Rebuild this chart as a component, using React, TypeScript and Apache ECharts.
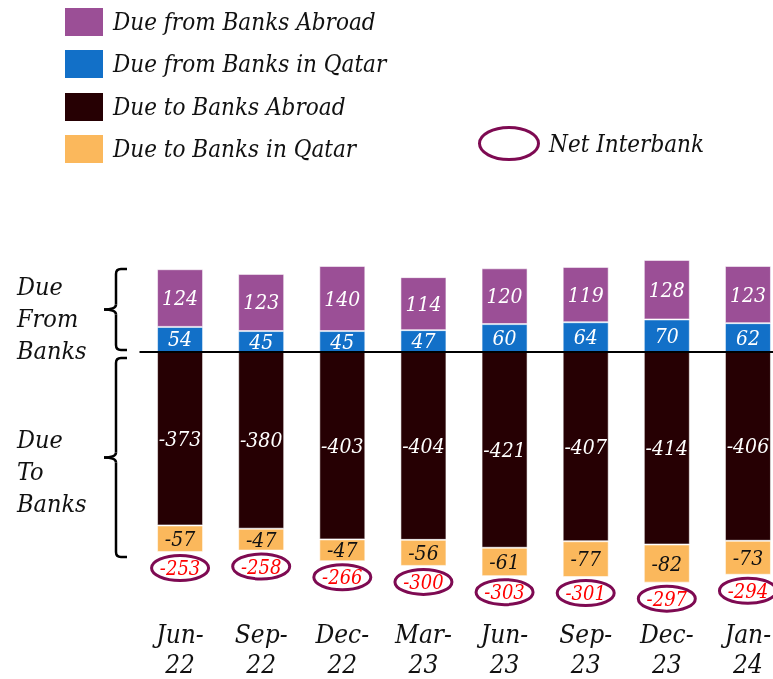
import React, { useEffect, useRef } from "react";
import * as echarts from "echarts";

const categories = ["Jun-\n22", "Sep-\n22", "Dec-\n22", "Mar-\n23", "Jun-\n23", "Sep-\n23", "Dec-\n23", "Jan-\n24"];
const dueFromAbroad = [124, 123, 140, 114, 120, 119, 128, 123];
const dueFromQatar = [54, 45, 45, 47, 60, 64, 70, 62];
const dueToAbroad = [-373, -380, -403, -404, -421, -407, -414, -406];
const dueToQatar = [-57, -47, -47, -56, -61, -77, -82, -73];
const netInterbank = [-253, -258, -266, -300, -303, -301, -297, -294];

const FONT = "'DejaVu Serif Condensed', 'DejaVu Serif', serif";
const C_PURPLE = "#9b4f96";
const C_BLUE = "#1270c8";
const C_DARK = "#260003";
const C_ORANGE = "#fbb85c";
const C_RING = "#7e0a52";

export default function App() {
  const ref = useRef<HTMLDivElement>(null);
  useEffect(() => {
    if (!ref.current) return;
    const chart = echarts.init(ref.current, null, { renderer: "svg" });
    const barLabel = (color: string) => ({
      show: true,
      position: "inside",
      color,
      fontFamily: FONT,
      fontStyle: "italic",
      fontSize: 21,
    });
    const barItem = (color: string) => ({
      color,
      borderColor: "rgba(255,255,255,0.55)",
      borderWidth: 1,
    });
    const legendItems = [
      { name: "Due from Banks Abroad", color: C_PURPLE, y: 8 },
      { name: "Due from Banks in Qatar", color: C_BLUE, y: 50 },
      { name: "Due to Banks Abroad", color: C_DARK, y: 93 },
      { name: "Due to Banks in Qatar", color: C_ORANGE, y: 135 },
    ];
    const graphics: any[] = [];
    legendItems.forEach((l) => {
      graphics.push({ type: "rect", left: 65, top: l.y, shape: { width: 38, height: 28 }, style: { fill: l.color } });
      graphics.push({
        type: "text",
        x: 113,
        y: l.y + 14,
        style: { text: l.name, fontFamily: FONT, fontStyle: "italic", fontSize: 24, fill: "#111", verticalAlign: "middle" },
      });
    });
    graphics.push({ type: "ellipse", shape: { cx: 509, cy: 143.5, rx: 29.5, ry: 16 }, style: { fill: "none", stroke: C_RING, lineWidth: 3 } });
    graphics.push({
      type: "text",
      x: 549,
      y: 143.5,
      style: { text: "Net Interbank", fontFamily: FONT, fontStyle: "italic", fontSize: 24, fill: "#111", verticalAlign: "middle" },
    });
    graphics.push({
      type: "text",
      x: 17,
      y: 270,
      style: { text: "Due\nFrom\nBanks", fontFamily: FONT, fontStyle: "italic", fontSize: 25, lineHeight: 32, fill: "#111" },
    });
    graphics.push({
      type: "text",
      x: 17,
      y: 423,
      style: { text: "Due\nTo\nBanks", fontFamily: FONT, fontStyle: "italic", fontSize: 25, lineHeight: 32, fill: "#111" },
    });
    const brace = (top: number, bottom: number) => {
      const mid = (top + bottom) / 2;
      const xs = 116, xe = 127, xt = 104, r = 5;
      const st = { stroke: "#000", lineWidth: 2.5, fill: "none" };
      return [
        { type: "line", shape: { x1: xe, y1: top, x2: xs + r, y2: top }, style: st },
        { type: "bezierCurve", shape: { x1: xs + r, y1: top, cpx1: xs, cpy1: top, x2: xs, y2: top + r }, style: st },
        { type: "line", shape: { x1: xs, y1: top + r, x2: xs, y2: mid - r }, style: st },
        { type: "bezierCurve", shape: { x1: xs, y1: mid - r, cpx1: xs, cpy1: mid, x2: xt, y2: mid }, style: st },
        { type: "bezierCurve", shape: { x1: xt, y1: mid, cpx1: xs, cpy1: mid, x2: xs, y2: mid + r }, style: st },
        { type: "line", shape: { x1: xs, y1: mid + r, x2: xs, y2: bottom - r }, style: st },
        { type: "bezierCurve", shape: { x1: xs, y1: bottom - r, cpx1: xs, cpy1: bottom, x2: xs + r, y2: bottom }, style: st },
        { type: "line", shape: { x1: xs + r, y1: bottom, x2: xe, y2: bottom }, style: st },
      ];
    };
    graphics.push(...brace(269, 350));
    graphics.push(...brace(358, 557));

    const negTotals = dueToAbroad.map((v, i) => v + dueToQatar[i]);

    chart.setOption({
      animation: false,
      grid: { left: 139.5, width: 649, top: 259, bottom: 94.5, containLabel: false, outerBoundsMode: "none" },
      xAxis: {
        type: "category",
        data: categories,
        axisLine: { show: false, onZero: false },
        axisTick: { show: false },
        axisLabel: {
          margin: 34,
          fontFamily: FONT,
          fontStyle: "italic",
          fontSize: 26,
          lineHeight: 30,
          color: "#111",
        },
      },
      yAxis: {
        type: "value",
        min: -500,
        max: 200,
        show: false,
        splitLine: { show: false },
      },
      graphic: graphics,
      series: [
        {
          name: "Due from Banks in Qatar",
          type: "bar",
          stack: "a",
          barWidth: 46,
          data: dueFromQatar,
          itemStyle: barItem(C_BLUE),
          label: barLabel("#fff"),
          markLine: {
            silent: true,
            symbol: "none",
            label: { show: false },
            lineStyle: { color: "#000", width: 2, type: "solid" },
            data: [{ yAxis: 0 }],
          },
        },
        {
          name: "Due from Banks Abroad",
          type: "bar",
          stack: "a",
          barWidth: 46,
          data: dueFromAbroad,
          itemStyle: barItem(C_PURPLE),
          label: barLabel("#fff"),
        },
        {
          name: "Due to Banks Abroad",
          type: "bar",
          stack: "a",
          barWidth: 46,
          data: dueToAbroad,
          itemStyle: barItem(C_DARK),
          label: barLabel("#fff"),
        },
        {
          name: "Due to Banks in Qatar",
          type: "bar",
          stack: "a",
          barWidth: 46,
          data: dueToQatar,
          itemStyle: barItem(C_ORANGE),
          label: barLabel("#111"),
        },
        {
          name: "Net Interbank",
          type: "custom",
          data: netInterbank.map((v, i) => [i, negTotals[i], v]),
          renderItem: (params: any, api: any) => {
            const p = api.coord([api.value(0), api.value(1)]);
            const cy = p[1] + 16;
            return {
              type: "group",
              children: [
                { type: "ellipse", shape: { cx: p[0], cy, rx: 28.5, ry: 12.5 }, style: { fill: "#fff", stroke: C_RING, lineWidth: 3 } },
                {
                  type: "text",
                  x: p[0],
                  y: cy,
                  style: {
                    text: String(api.value(2)),
                    fill: "#ff0000",
                    fontFamily: FONT,
                    fontStyle: "italic",
                    fontSize: 20,
                    align: "center",
                    verticalAlign: "middle",
                  },
                },
              ],
            };
          },
          z: 5,
        },
      ],
    });
    return () => chart.dispose();
  }, []);
  return <div ref={ref} style={{ position: "fixed", left: 0, top: 0, width: 773, height: 679 }} />;
}
